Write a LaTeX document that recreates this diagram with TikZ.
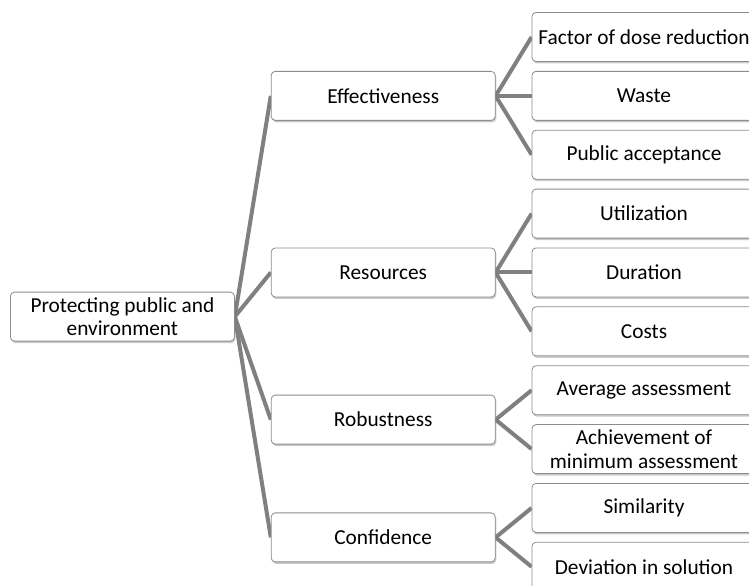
\documentclass[tikz,border=0pt]{standalone}
\usepackage{fontspec}
\setmainfont{Carlito}
\usepackage{tikz}
\usetikzlibrary{ positioning, calc, shadows, backgrounds }
\usepackage{xcolor}
\definecolor{link}{HTML}{808080}
\definecolor{frame}{HTML}{8C8C8C}

\begin{document}
\begin{tikzpicture}[
  x=0.75pt, y=-0.75pt,
  node distance=6.8pt and 27pt,
  box/.style={draw=frame, line width=0.6pt, rounded corners=3pt, fill=white,
              drop shadow={shadow xshift=0.8pt, shadow yshift=-1.5pt,
                           opacity=0.35, fill=black!60},
              minimum width=168pt, minimum height=36.75pt, inner sep=1pt,
              align=center, font=\fontsize{16}{17.5}\selectfont},
  ln/.style={link, line width=3pt},
]
  \useasboundingbox (0,0) rectangle (749,585);
  \node[box] (l1) at (644,37) {Factor of dose reduction};
  \node[box, below=of l1] (l2) {Waste};
  \node[box, below=of l2] (l3) {Public acceptance};
  \node[box, below=of l3] (l4) {Utilization};
  \node[box, below=of l4] (l5) {Duration};
  \node[box, below=of l5] (l6) {Costs};
  \node[box, below=of l6] (l7) {Average assessment};
  \node[box, below=of l7] (l8) {Achievement of\\minimum assessment};
  \node[box, below=of l8] (l9) {Similarity};
  \node[box, below=of l9] (l10) {Deviation in solution};
  \coordinate (m3) at ($(l7.west)!0.5!(l8.west)$);
  \coordinate (m4) at ($(l9.west)!0.5!(l10.west)$);
  \node[box, left=of l2] (c1) {Effectiveness};
  \node[box, left=of l5] (c2) {Resources};
  \node[box, left=of m3] (c3) {Robustness};
  \node[box, left=of m4] (c4) {Confidence};
  \coordinate (m0) at ($(c1.west)!0.5!(c4.west)$);
  \node[box, left=of m0] (root) {Protecting public and\\environment};
  \begin{scope}[on background layer]
    \foreach \c in {c1,c2,c3,c4}
      \draw[ln] (root.east) -- (\c.west);
    \foreach \c/\l in {c1/l1, c1/l2, c1/l3, c2/l4, c2/l5, c2/l6,
                       c3/l7, c3/l8, c4/l9, c4/l10}
      \draw[ln] (\c.east) -- (\l.west);
  \end{scope}
\end{tikzpicture}
\end{document}
